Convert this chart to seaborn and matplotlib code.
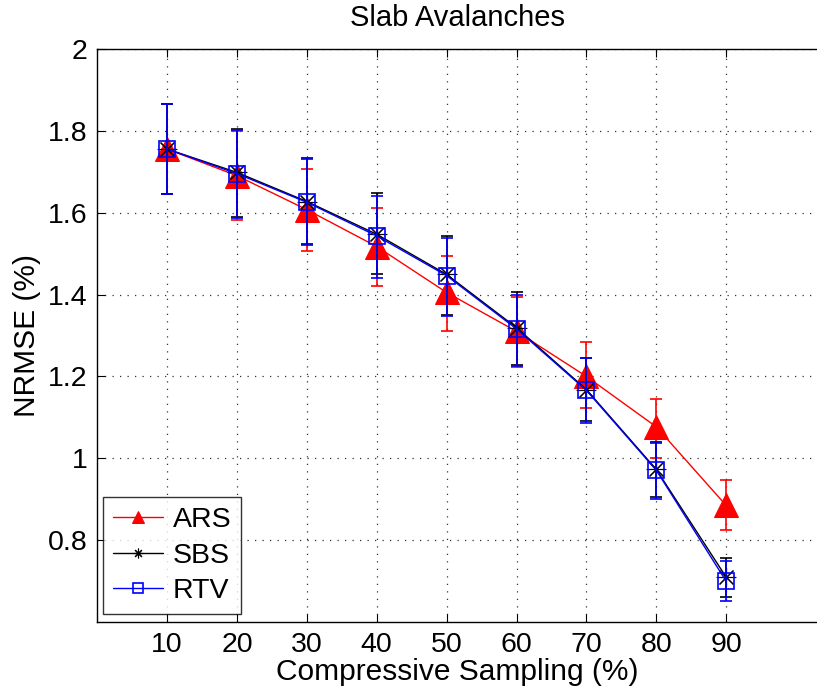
import matplotlib
matplotlib.use("Agg")
import matplotlib.pyplot as plt
import seaborn as sns
import pandas as pd
import numpy as np

# Compressive sampling ratio (%)
sampling = [10, 20, 30, 40, 50, 60, 70, 80, 90]

# ARS
ars_mean = [1.755, 1.690, 1.607, 1.517, 1.405, 1.310, 1.200, 1.077, 0.885]
ars_upper = [1.865, 1.800, 1.707, 1.612, 1.495, 1.393, 1.285, 1.146, 0.946]
ars_lower = [1.645, 1.583, 1.505, 1.420, 1.312, 1.222, 1.124, 1.000, 0.824]

# SBS
sbs_mean = [1.755, 1.698, 1.627, 1.547, 1.449, 1.319, 1.168, 0.973, 0.710]
sbs_upper = [1.866, 1.805, 1.734, 1.648, 1.544, 1.407, 1.246, 1.039, 0.756]
sbs_lower = [1.646, 1.590, 1.524, 1.449, 1.351, 1.229, 1.090, 0.905, 0.661]

# RTV
rtv_mean = [1.755, 1.695, 1.625, 1.543, 1.446, 1.316, 1.166, 0.971, 0.700]
rtv_upper = [1.864, 1.802, 1.730, 1.640, 1.537, 1.400, 1.244, 1.037, 0.749]
rtv_lower = [1.645, 1.587, 1.520, 1.440, 1.347, 1.225, 1.087, 0.902, 0.651]

y_ticks = [0.8, 1.0, 1.2, 1.4, 1.6, 1.8, 2.0]
y_ticklabels = ["0.8", "1", "1.2", "1.4", "1.6", "1.8", "2"]

sns.set_style("white")
plt.rcParams["font.family"] = ["Liberation Sans", "DejaVu Sans"]
plt.rcParams["text.color"] = "#000000"
plt.rcParams["axes.labelcolor"] = "#000000"
plt.rcParams["xtick.color"] = "#000000"
plt.rcParams["ytick.color"] = "#000000"

fig = plt.figure(figsize=(8.17, 6.96), dpi=100)
ax = fig.add_axes([0.119, 0.106, 0.881, 0.824])

series = [
    ("ARS", ars_mean, ars_lower, ars_upper, "#ff0000",
     dict(marker="^", markersize=17, markerfacecolor="#ff0000", markeredgecolor="#ff0000")),
    ("SBS", sbs_mean, sbs_lower, sbs_upper, "#000000",
     dict(marker=(8, 2, 0), markersize=14, markeredgecolor="#000000", markeredgewidth=0.8)),
    ("RTV", rtv_mean, rtv_lower, rtv_upper, "#0000ff",
     dict(marker="s", markersize=11, markerfacecolor="none", markeredgecolor="#0000ff",
          markeredgewidth=1.2)),
]

for i, (name, mean, lo, hi, color, mstyle) in enumerate(series):
    df = pd.DataFrame({"x": sampling, "y": mean})
    mean_a = np.array(mean)
    yerr = [mean_a - np.array(lo), np.array(hi) - mean_a]
    ax.errorbar(sampling, mean, yerr=yerr, fmt="none", ecolor=color,
                elinewidth=1.2, capsize=4.5, capthick=1.2, zorder=3 + i)
    sns.lineplot(data=df, x="x", y="y", ax=ax, color=color, linewidth=1.0,
                 label=name, zorder=3 + i, **mstyle)

ax.set_xlim(0, 103)
ax.set_ylim(0.6, 2.0)
ax.set_xticks(sampling)
ax.set_xticklabels([str(s) for s in sampling])
ax.set_yticks(y_ticks)
ax.set_yticklabels(y_ticklabels)

ax.grid(True, color="#333333", linestyle=(0, (1, 5)), linewidth=0.9)
ax.tick_params(direction="in", length=6, width=0.8, labelsize=20.5, color="#000000",
               labelcolor="#000000", top=True, bottom=True, left=True, right=False, pad=7)
for side in ["left", "bottom", "top"]:
    ax.spines[side].set_color("#000000")
    ax.spines[side].set_linewidth(1.0)
ax.spines["right"].set_visible(False)

ax.set_xlabel("Compressive Sampling (%)", fontsize=21.5, labelpad=0, color="#000000")
ax.set_ylabel("NRMSE (%)", fontsize=21.5, labelpad=5, color="#000000")
ax.set_title("Slab Avalanches", fontsize=21, pad=16, color="#000000")

leg = ax.legend(loc="lower left", fontsize=20.5, frameon=True, fancybox=False,
                handlelength=1.75, handletextpad=0.35, borderpad=0.35, labelspacing=0.33,
                borderaxespad=0.0, bbox_to_anchor=(0.008, 0.014))
leg.get_frame().set_edgecolor("#000000")
leg.get_frame().set_linewidth(1.0)
for t in leg.get_texts():
    t.set_color("#000000")
for h in leg.legend_handles:
    h.set_markersize(9 if h.get_marker() == "^" else 7)

fig.savefig("out.png", dpi=100)
